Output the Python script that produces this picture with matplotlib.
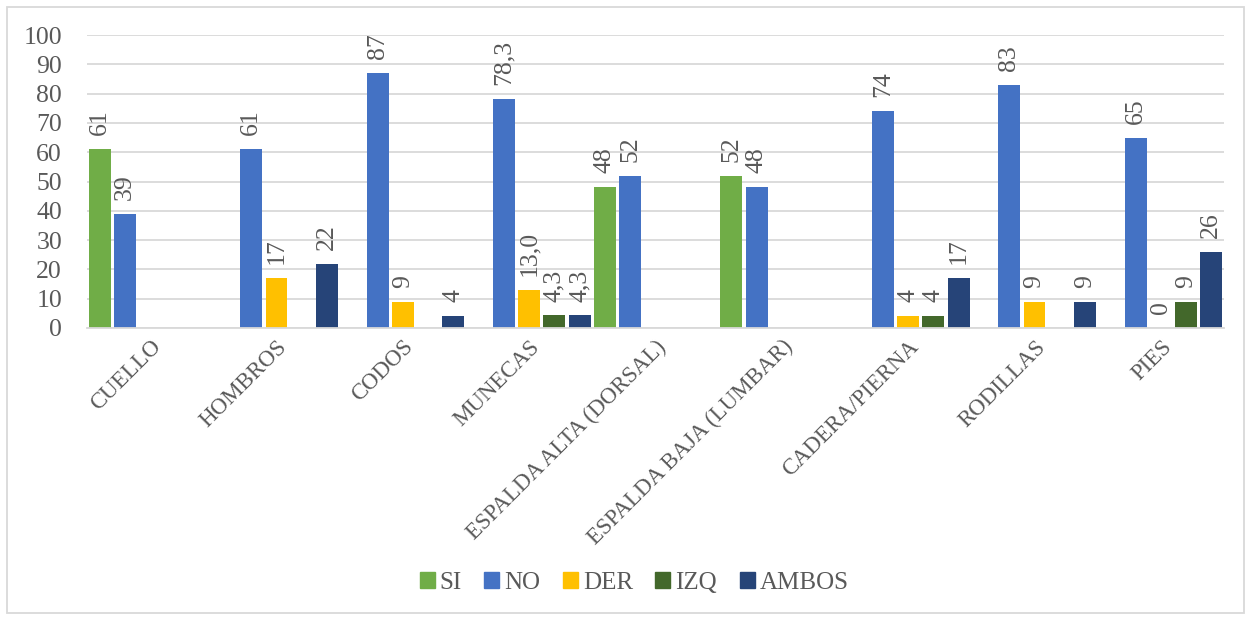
import numpy as np
import matplotlib
matplotlib.use("Agg")
import matplotlib.pyplot as plt
from matplotlib.patches import Rectangle

nan = np.nan
categories = ["CUELLO", "HOMBROS", "CODOS", "MUNECAS", "ESPALDA ALTA (DORSAL)",
              "ESPALDA BAJA (LUMBAR)", "CADERA/PIERNA", "RODILLAS", "PIES"]
series_names = ["SI", "NO", "DER", "IZQ", "AMBOS"]
si = [61, nan, nan, nan, 48, 52, nan, nan, nan]
no = [39, 61, 87, 78.3, 52, 48, 74, 83, 65]
der = [nan, 17, 9, 13.0, nan, nan, 4, 9, 0]
izq = [nan, nan, nan, 4.3, nan, nan, 4, nan, 9]
ambos = [nan, 22, 4, 4.3, nan, nan, 17, 9, 26]
decimals = [0, 0, 0, 1, 0, 0, 0, 0, 0]
yticks = [0, 10, 20, 30, 40, 50, 60, 70, 80, 90, 100]

colors = ["#70AD47", "#4472C4", "#FFC000", "#43682B", "#264478"]
series = [si, no, der, izq, ambos]

plt.rcParams['font.family'] = ['Liberation Serif', 'DejaVu Serif']
txt = "#595959"

W, H = 1251, 620
fig = plt.figure(figsize=(W / 100, H / 100), dpi=100)
ax = fig.add_axes([87 / W, 1 - 328 / H, (1224 - 87) / W, (328 - 35) / H])

n = len(series)
step = 1.0 / n
bw = step * 22 / 25.3
x = np.arange(len(categories))
for j, (vals, c, name) in enumerate(zip(series, colors, series_names)):
    xs = x - 0.5 + step * (j + 0.5)
    v = np.array(vals, dtype=float)
    ax.bar(xs, v, width=bw, color=c, label=name, zorder=3)
    for xi, vi, d in zip(xs, v, decimals):
        if np.isnan(vi):
            continue
        lab = f"{vi:.{d}f}".replace(".", ",")
        ax.annotate(lab, (xi, vi), xytext=(0, 10), textcoords="offset points",
                    rotation=90, ha="center", va="bottom", fontsize=18.5,
                    color=txt, family="Liberation Serif")

ax.set_xlim(-0.5, len(categories) - 0.5)
ax.set_ylim(0, 100)
ax.set_yticks(yticks)
ax.set_yticklabels([str(t) for t in yticks], fontsize=18.5, color=txt,
                   family="Liberation Serif")
ax.set_xticks(x)
ax.set_xticklabels(categories, rotation=45, ha="right", va="top",
                   rotation_mode="anchor", fontsize=16.5, color=txt,
                   family="Liberation Serif")
ax.tick_params(axis="y", length=0, pad=18)
ax.tick_params(axis="x", length=0, pad=6)
ax.grid(axis="y", color="#d9d9d9", linewidth=1.3, zorder=0)
for s in ["top", "right", "left"]:
    ax.spines[s].set_visible(False)
ax.spines["bottom"].set_color("#d9d9d9")
ax.spines["bottom"].set_linewidth(1.3)
ax.spines["bottom"].set_zorder(4)

handles = [Rectangle((0, 0), 1, 1, color=c) for c in colors]
leg = fig.legend(handles, series_names, loc="center", bbox_to_anchor=(634 / W, 1 - 583 / H),
                 ncol=5, frameon=False, prop={"family": "Liberation Serif", "size": 18},
                 handlelength=0.6, handleheight=0.6,
                 handletextpad=0.2, columnspacing=0.9, borderaxespad=0)
for t in leg.get_texts():
    t.set_color(txt)

fig.patches.append(Rectangle((7 / W, 7 / H), (W - 14) / W, (H - 14) / H,
                             transform=fig.transFigure, fill=False,
                             edgecolor="#d9d9d9", linewidth=1.3))

fig.savefig("out.png", dpi=100)
